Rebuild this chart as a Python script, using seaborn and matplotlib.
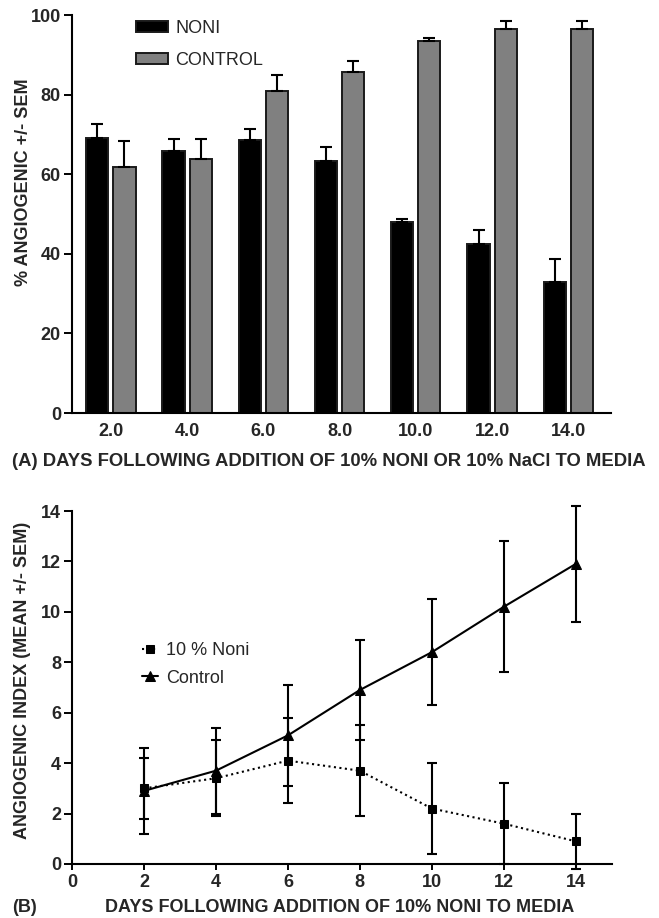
import matplotlib
matplotlib.use("Agg")
import matplotlib.pyplot as plt
import seaborn as sns
import numpy as np
import pandas as pd
from matplotlib.patches import Patch

# ---- Data panel A ----
days_a = ["2.0", "4.0", "6.0", "8.0", "10.0", "12.0", "14.0"]
noni_pct = [69.0, 65.9, 68.6, 63.2, 47.9, 42.5, 33.0]
noni_pct_sem = [3.5, 2.9, 2.8, 3.7, 0.8, 3.4, 5.6]
control_pct = [61.9, 63.9, 80.9, 85.6, 93.5, 96.6, 96.6]
control_pct_sem = [6.5, 4.9, 4.0, 2.9, 0.8, 2.0, 2.0]
groups_a = ["NONI", "CONTROL"]

# ---- Data panel B ----
days_b = [2, 4, 6, 8, 10, 12, 14]
noni_idx = [3.0, 3.4, 4.1, 3.7, 2.2, 1.6, 0.9]
noni_idx_sem = [1.2, 1.5, 1.7, 1.8, 1.8, 1.6, 1.1]
control_idx = [2.9, 3.7, 5.1, 6.9, 8.4, 10.2, 11.9]
control_idx_sem = [1.7, 1.7, 2.0, 2.0, 2.1, 2.6, 2.3]
labels_b = ["10 % Noni", "Control"]

sns.set_theme(style="ticks")
plt.rcParams['font.family'] = ['Liberation Sans', 'DejaVu Sans']

FS = 13
fig = plt.figure(figsize=(6.59, 9.18), dpi=100)
W, H = 659, 918

def px_axes(l, t, r, b):
    return fig.add_axes([l / W, 1 - b / H, (r - l) / W, (b - t) / H])

def style_axes(ax, xtick_len):
    sns.despine(ax=ax)
    for s in ["left", "bottom"]:
        ax.spines[s].set_linewidth(1.5)
        ax.spines[s].set_color("black")
    ax.tick_params(axis="y", length=6, width=1.4, color="black", labelsize=FS, pad=2)
    ax.tick_params(axis="x", length=xtick_len, width=1.4, color="black", labelsize=FS,
                   pad=7 if xtick_len == 0 else 3)
    for lab in ax.get_xticklabels() + ax.get_yticklabels():
        lab.set_fontweight("bold")

# ================= Panel A =================
ax1 = px_axes(72, 15, 611, 413)
df_a = pd.DataFrame({
    "day": days_a * 2,
    "group": [groups_a[0]] * len(days_a) + [groups_a[1]] * len(days_a),
    "value": noni_pct + control_pct,
})
total_w = 0.71
gap = 0.18
sns.barplot(data=df_a, x="day", y="value", hue="group", order=days_a,
            hue_order=groups_a, palette=["black", "#808080"], width=total_w,
            gap=gap, errorbar=None, edgecolor="#1a1a1a", linewidth=1.4,
            legend=False, ax=ax1)
xs = np.arange(len(days_a))
offs = total_w / 4
for vals, sems, off in [(noni_pct, noni_pct_sem, -offs), (control_pct, control_pct_sem, offs)]:
    ax1.errorbar(xs + off, vals, yerr=[np.zeros(len(vals)), sems], fmt="none",
                 ecolor="black", elinewidth=1.5, capsize=4.3, capthick=1.5, zorder=1)
ax1.set_xlim(-0.51, 6.56)
ax1.set_ylim(0, 100)
ax1.set_yticks([0, 20, 40, 60, 80, 100])
ax1.set_xlabel("")
ax1.set_ylabel("")
style_axes(ax1, 0)
leg_a = [Patch(facecolor="black", edgecolor="#1a1a1a", linewidth=1.4),
         Patch(facecolor="#808080", edgecolor="#1a1a1a", linewidth=1.4)]
ax1.legend(leg_a, groups_a, loc="upper left", bbox_to_anchor=(0.095, 1.02),
           frameon=False, fontsize=FS, handlelength=1.8, handleheight=0.6,
           handletextpad=0.4, labelspacing=0.85, borderaxespad=0.3)
fig.text(24 / W, 1 - 182 / H, "% ANGIOGENIC +/- SEM", rotation=90, fontsize=FS,
         fontweight="bold", ha="center", va="center")
fig.text(12 / W, 1 - 461 / H, "(A) DAYS FOLLOWING ADDITION OF 10% NONI OR 10% NaCl TO MEDIA",
         fontsize=13.3, fontweight="bold", ha="left", va="center")

# ================= Panel B =================
ax2 = px_axes(72, 511, 611.7, 864)
df_b = pd.DataFrame({
    "day": days_b * 2,
    "series": [labels_b[0]] * len(days_b) + [labels_b[1]] * len(days_b),
    "value": noni_idx + control_idx,
})
sns.lineplot(data=df_b[df_b.series == labels_b[0]], x="day", y="value",
             color="black", linestyle=":", linewidth=1.5, marker="s",
             markersize=6, markeredgecolor="black", errorbar=None, ax=ax2,
             label=labels_b[0], zorder=3)
sns.lineplot(data=df_b[df_b.series == labels_b[1]], x="day", y="value",
             color="black", linestyle="-", linewidth=1.5, marker="^",
             markersize=7.5, markeredgecolor="black", errorbar=None, ax=ax2,
             label=labels_b[1], zorder=3)
for vals, sems in [(noni_idx, noni_idx_sem), (control_idx, control_idx_sem)]:
    ax2.errorbar(days_b, vals, yerr=sems, fmt="none", ecolor="black",
                 elinewidth=1.5, capsize=3.3, capthick=1.5, clip_on=False, zorder=2)
ax2.set_xlim(0, 15)
ax2.set_ylim(0, 14)
ax2.set_xticks([0, 2, 4, 6, 8, 10, 12, 14])
ax2.set_yticks([0, 2, 4, 6, 8, 10, 12, 14])
ax2.set_xlabel("")
ax2.set_ylabel("")
style_axes(ax2, 4)
ax2.legend(loc="upper left", bbox_to_anchor=(0.1, 0.675), frameon=False,
           fontsize=FS, handlelength=0.9, handletextpad=0.4, labelspacing=0.6)
fig.text(23 / W, 1 - 680 / H, "ANGIOGENIC INDEX (MEAN +/- SEM)", rotation=90, fontsize=FS,
         fontweight="bold", ha="center", va="center")
fig.text(12 / W, 1 - 907 / H, "(B)", fontsize=FS, fontweight="bold", ha="left", va="center")
fig.text(340 / W, 1 - 907 / H, "DAYS FOLLOWING ADDITION OF 10% NONI TO MEDIA",
         fontsize=FS, fontweight="bold", ha="center", va="center")

fig.savefig("out.png", dpi=100)
